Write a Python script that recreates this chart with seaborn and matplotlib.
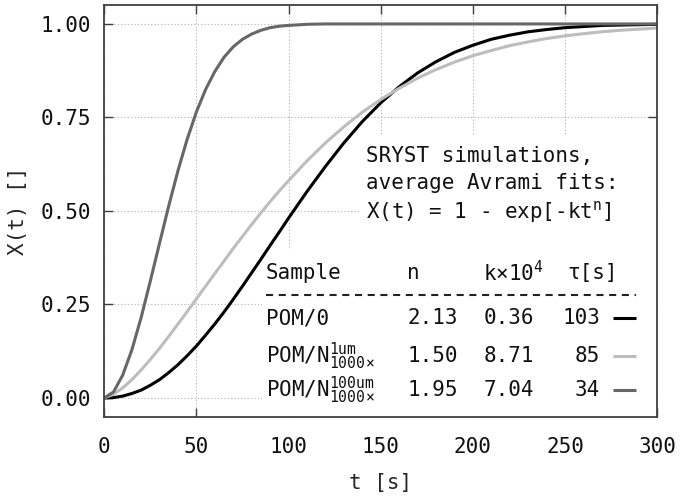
import numpy as np
import pandas as pd
import seaborn as sns
import matplotlib.pyplot as plt
from matplotlib.patches import Rectangle

# время, с
t_s = [0, 5, 10, 15, 20, 25, 30, 35, 40, 45, 50, 55, 60, 65, 70, 75, 80, 85, 90, 95, 100,
       110, 120, 130, 140, 150, 160, 170, 180, 190, 200, 210, 220, 230, 240, 250, 260,
       270, 280, 290, 300]

# X(t)
x_pom0 = [0.0, 0.001, 0.005, 0.012, 0.021, 0.034, 0.049, 0.068, 0.089, 0.113, 0.139,
          0.168, 0.198, 0.230, 0.264, 0.299, 0.335, 0.371, 0.408, 0.444, 0.481,
          0.552, 0.619, 0.682, 0.739, 0.789, 0.832, 0.869, 0.899, 0.924, 0.943, 0.959,
          0.970, 0.979, 0.985, 0.990, 0.993, 0.996, 0.997, 0.998, 0.999]
x_pom_1um = [0.0, 0.010, 0.027, 0.049, 0.075, 0.103, 0.133, 0.165, 0.198, 0.231, 0.265,
             0.299, 0.333, 0.366, 0.400, 0.432, 0.464, 0.495, 0.525, 0.554, 0.581,
             0.634, 0.682, 0.725, 0.764, 0.798, 0.828, 0.855, 0.878, 0.898, 0.915, 0.929,
             0.942, 0.952, 0.961, 0.968, 0.974, 0.979, 0.983, 0.986, 0.989]
x_pom_100um = [0.0, 0.016, 0.061, 0.129, 0.215, 0.313, 0.414, 0.514, 0.608, 0.692, 0.765,
               0.825, 0.873, 0.911, 0.939, 0.959, 0.973, 0.983, 0.990, 0.994, 0.996,
               0.999, 1.000, 1.000, 1.000, 1.000, 1.000, 1.000, 1.000, 1.000, 1.000, 1.000,
               1.000, 1.000, 1.000, 1.000, 1.000, 1.000, 1.000, 1.000, 1.000]

# таблица параметров Аврами
samples = ["POM/0", r"POM/N$^{1\mathrm{um}}_{1000\times}$", r"POM/N$^{100\mathrm{um}}_{1000\times}$"]
n_vals = ["2.13", "1.50", "1.95"]
k_vals = ["0.36", "8.71", "7.04"]
tau_vals = ["103", "85", "34"]
colors = ["#000000", "#bdbdbd", "#676767"]

xticks = [0, 50, 100, 150, 200, 250, 300]
yticks = [0.0, 0.25, 0.5, 0.75, 1.0]

sns.set_theme(style="ticks")
plt.rcParams['font.family'] = ['DejaVu Sans Mono', 'DejaVu Sans']
plt.rcParams['mathtext.fontset'] = 'custom'
plt.rcParams['mathtext.rm'] = 'DejaVu Sans Mono'
plt.rcParams['mathtext.it'] = 'DejaVu Sans Mono'
plt.rcParams['mathtext.bf'] = 'DejaVu Sans Mono'

df = pd.DataFrame({
    "t": t_s * 3,
    "X": x_pom0 + x_pom_1um + x_pom_100um,
    "sample": ["POM/0"] * len(t_s) + ["1um"] * len(t_s) + ["100um"] * len(t_s),
})

fig = plt.figure(figsize=(6.86, 5.03), dpi=100)
ax = fig.add_axes([0.152, 0.1716, 0.806, 0.818])

sns.lineplot(data=df, x="t", y="X", hue="sample", palette=colors, linewidth=2.2,
             legend=False, ax=ax, zorder=2)

ax.set_xlim(0, 300)
ax.set_ylim(-0.05, 1.05)
ax.set_xticks(xticks)
ax.set_yticks(yticks)
ax.set_yticklabels([f"{v:.2f}" for v in yticks])
ax.grid(True, color="#b0b0b0", linestyle=(0, (1, 2)), linewidth=0.8)
ax.set_axisbelow(True)

for sp in ax.spines.values():
    sp.set_color("#404040")
    sp.set_linewidth(1.3)
ax.tick_params(direction="in", length=6.5, width=1.0, color="#404040",
               top=True, right=True, labelsize=15, labelcolor="#111111")
ax.tick_params(axis="y", pad=9.8)
ax.tick_params(axis="x", pad=14.5)

ax.set_xlabel("t [s]", fontsize=15)
ax.set_ylabel("X(t) []", fontsize=15)
ax.xaxis.set_label_coords(0.5, -0.137)
ax.yaxis.set_label_coords(-0.138, 0.5)

# белые подложки под подписи
ax.add_patch(Rectangle((0.4626, 0.405), 0.54, 0.279, transform=ax.transAxes,
                       facecolor="white", edgecolor="none", zorder=1.5))
ax.add_patch(Rectangle((0.2853, 0.0), 0.72, 0.405, transform=ax.transAxes,
                       facecolor="white", edgecolor="none", zorder=1.5))

fs = 15
tc = "#111111"
ax.text(0.4735, 0.633, "SRYST simulations,", transform=ax.transAxes, fontsize=fs,
        va="center", color=tc)
ax.text(0.4735, 0.5676, "average Avrami fits:", transform=ax.transAxes, fontsize=fs,
        va="center", color=tc)
ax.text(0.4735, 0.497, r"X(t) = 1 - exp[-kt$^{\mathrm{n}}$]", transform=ax.transAxes,
        fontsize=fs, va="center", color=tc)

hy = 0.349
ax.text(0.2926, hy, "Sample", transform=ax.transAxes, fontsize=fs, va="center", color=tc)
ax.text(0.5477, hy, "n", transform=ax.transAxes, fontsize=fs, va="center", color=tc)
ax.text(0.6852, hy, r"k×10$^{4}$", transform=ax.transAxes, fontsize=fs, va="center", color=tc)
ax.text(0.837, hy, "τ[s]", transform=ax.transAxes, fontsize=fs, va="center", color=tc)
ax.plot([0.2926, 0.962], [0.2956, 0.2956], transform=ax.transAxes, color="#222222",
        linewidth=1.5, linestyle=(0, (3.4, 2.7)), zorder=3)

rows_y = [0.2397, 0.147, 0.0649]
for i in range(3):
    y = rows_y[i]
    ax.text(0.2926, y, samples[i], transform=ax.transAxes, fontsize=fs, va="center", color=tc)
    ax.text(0.5477, y, n_vals[i], transform=ax.transAxes, fontsize=fs, va="center", color=tc)
    ax.text(0.6852, y, k_vals[i], transform=ax.transAxes, fontsize=fs, va="center", color=tc)
    ax.text(0.8968, y, tau_vals[i], transform=ax.transAxes, fontsize=fs, va="center",
            ha="right", color=tc)
    ax.plot([0.9204, 0.962], [y, y], transform=ax.transAxes, color=colors[i],
            linewidth=2.2, solid_capstyle="butt", zorder=3)

fig.savefig("out.png", dpi=100)
